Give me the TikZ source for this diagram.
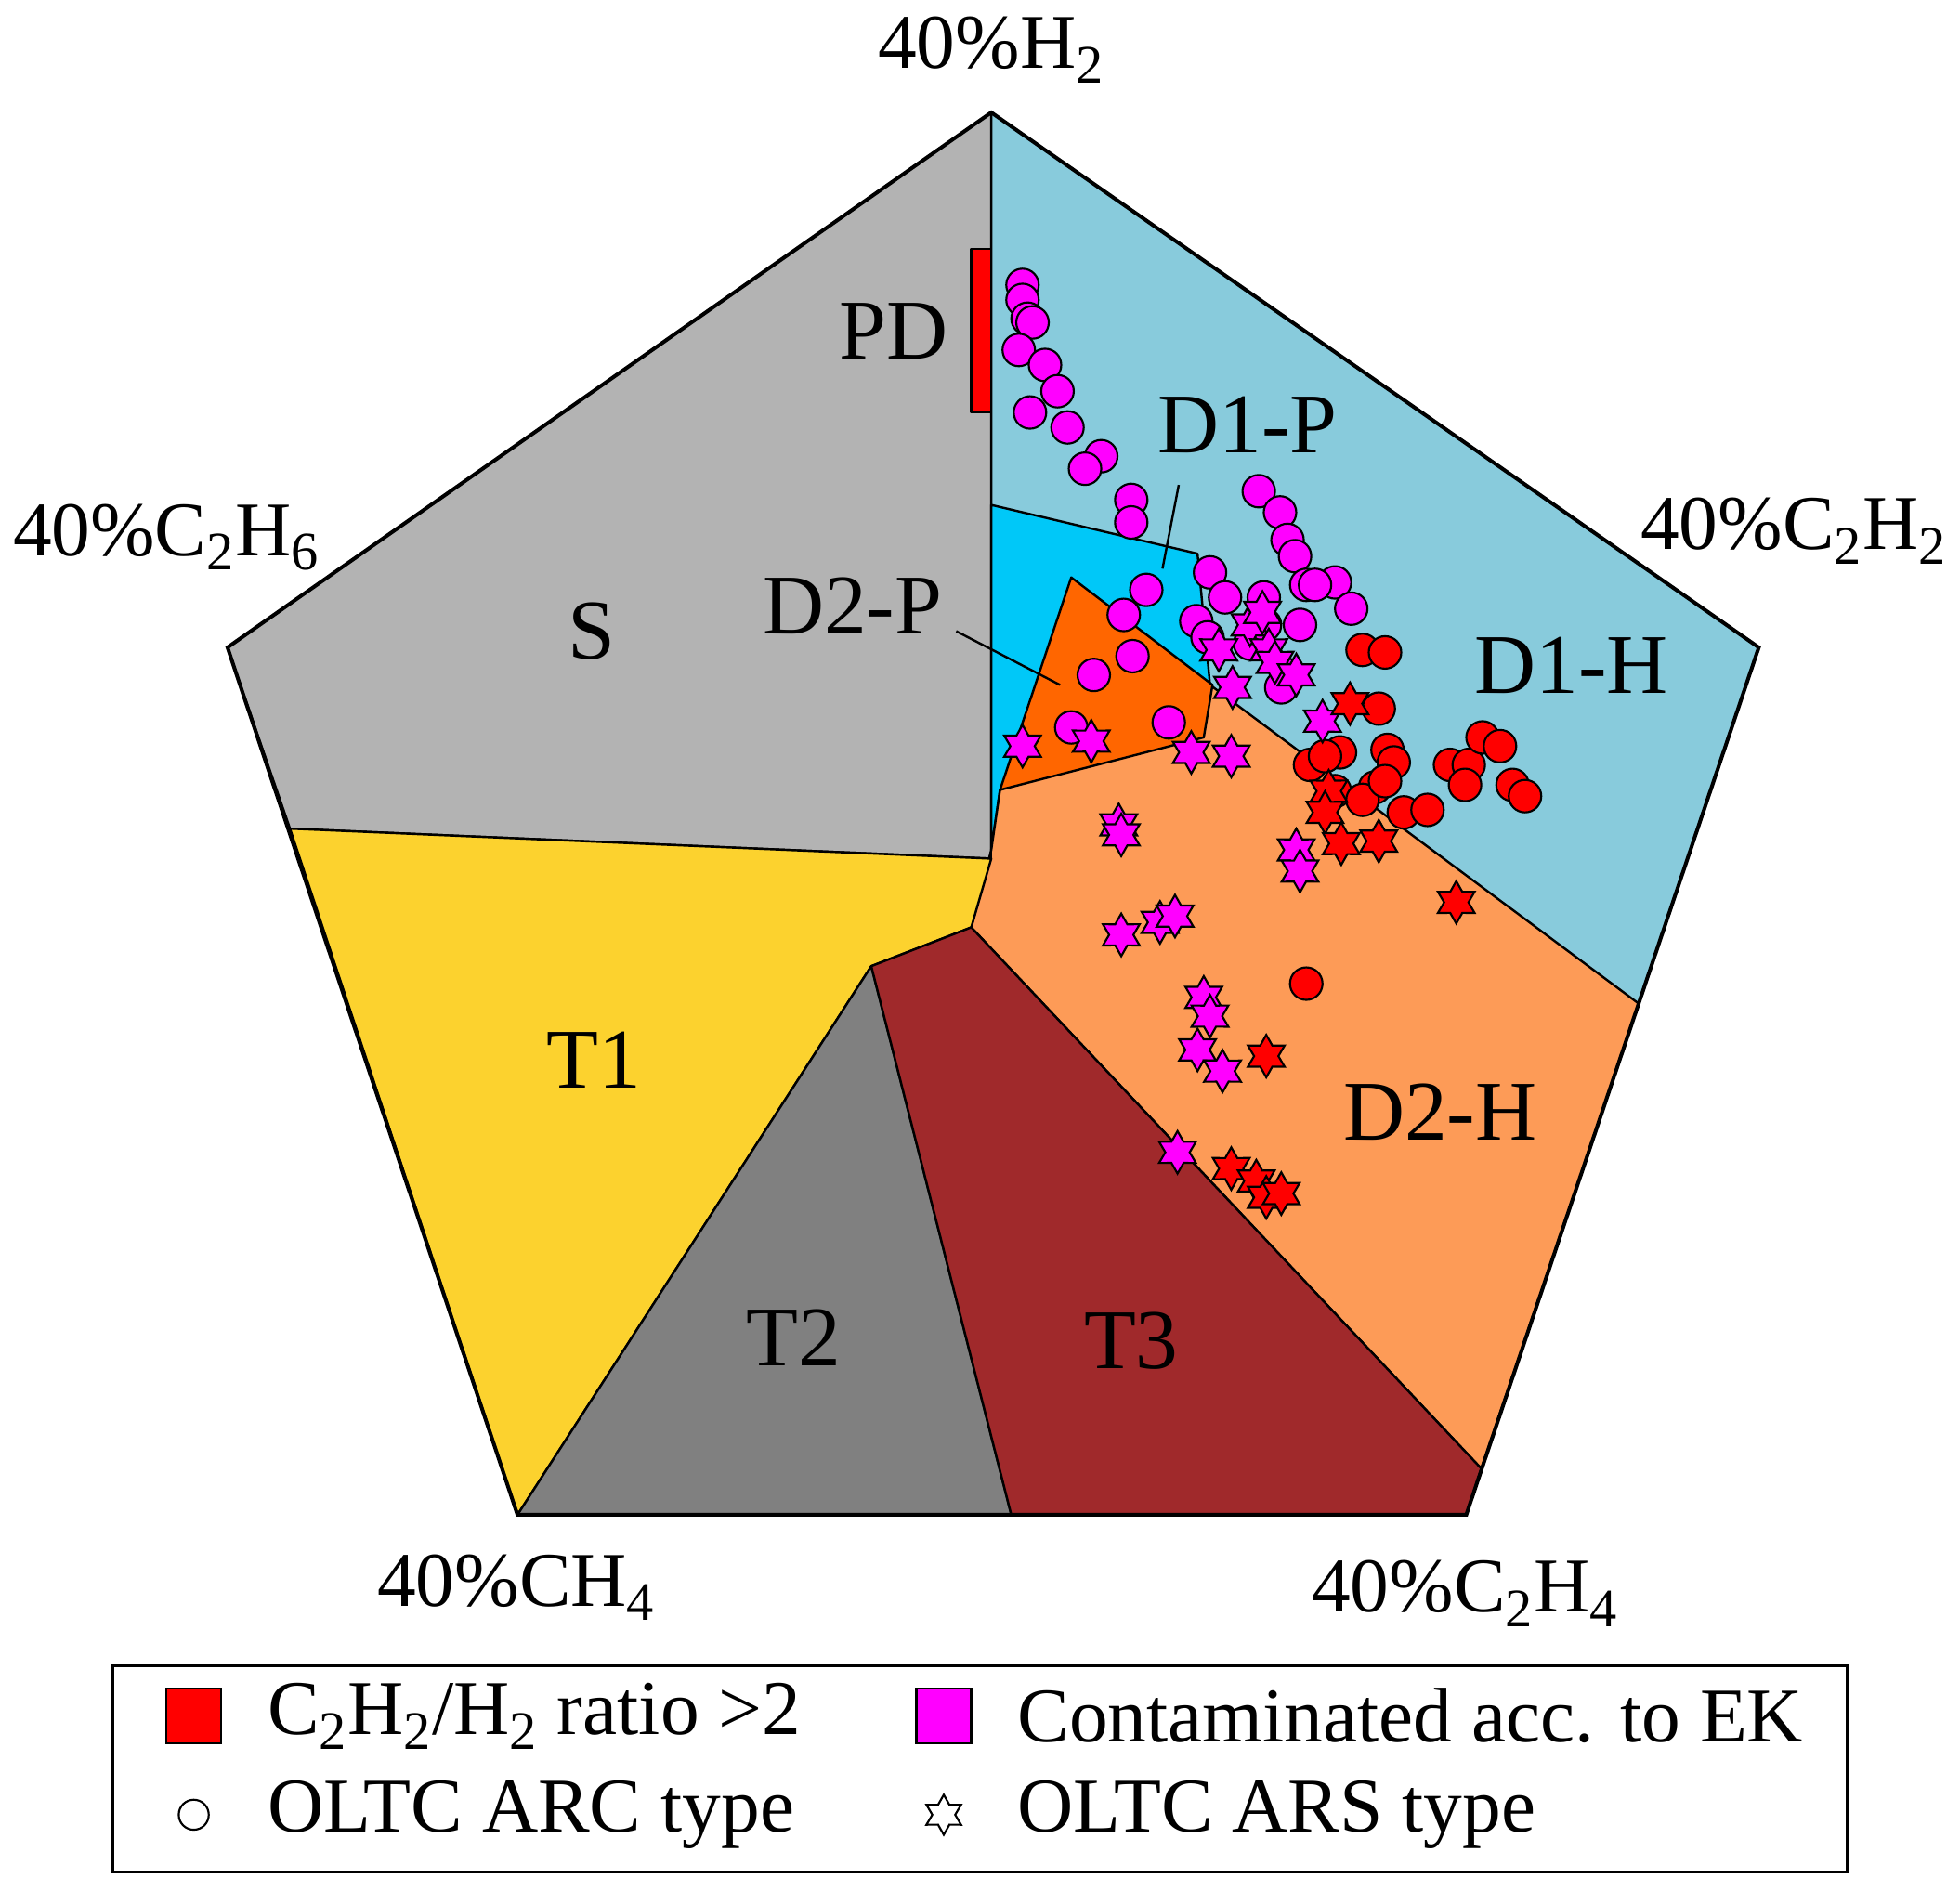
\documentclass[tikz,border=0pt]{standalone}
\usepackage{fontspec}
\setmainfont{Liberation Serif}
\usetikzlibrary{shapes.geometric}
\definecolor{cS}{HTML}{B3B3B3}
\definecolor{cDH}{HTML}{88CBDC}
\definecolor{cDP}{HTML}{00C8F8}
\definecolor{cD2H}{HTML}{FD9B57}
\definecolor{cD2P}{HTML}{FF6600}
\definecolor{cT1}{HTML}{FCD22E}
\definecolor{cT2}{HTML}{808080}
\definecolor{cT3}{HTML}{A0292B}
\definecolor{mag}{HTML}{FF00FF}
\newcommand{\sbs}[1]{\textsubscript{#1}}
\begin{document}
\begin{tikzpicture}[x=0.5pt,y=-0.5pt,
 reg/.style={draw=black,line width=0.9pt,line join=round},
 lab/.style={font=\fontsize{34}{36}\selectfont},
 vlab/.style={font=\fontsize{31}{33}\selectfont},
 circ/.style={circle,draw=black,line width=0.8pt,minimum size=13pt,inner sep=0pt},
 st/.style={star,star points=6,star point ratio=1.75,draw=black,line width=0.8pt,minimum size=17pt,inner sep=0pt},
 mc/.style={circ,fill=mag}, rc/.style={circ,fill=red},
 ms/.style={st,fill=mag}, rs/.style={st,fill=red}]
\useasboundingbox (0,0) rectangle (1568,1513);
% vertices
\coordinate (Top) at (793,90);
\coordinate (R) at (1407,518);
\coordinate (BR) at (1173,1212);
\coordinate (BL) at (414,1212);
\coordinate (L) at (182,518);
% regions
\fill[cDH] (Top)--(R)--(BR)--(BL)--(L)--cycle;
\filldraw[reg,fill=cS] (Top)--(L)--(232,663)--(793,687)--cycle;
\filldraw[reg,fill=cDP] (793,404)--(958,443)--(968,548)--(800,632)--(793,680)--cycle;
\filldraw[reg,fill=cD2H] (800,632)--(968,548)--(1311,803)--(1185,1175)--(777,742)--(793,680)--cycle;
\filldraw[reg,fill=cD2P] (857,462)--(970,548)--(963,590)--(800,632)--cycle;
\filldraw[reg,fill=cT1] (232,663)--(793,687)--(777,742)--(697,773)--(BL)--cycle;
\filldraw[reg,fill=cT2] (697,773)--(809,1212)--(BL)--cycle;
\filldraw[reg,fill=cT3] (697,773)--(777,742)--(1185,1175)--(BR)--(809,1212)--cycle;
\draw[reg] (Top)--(793,687);
\filldraw[reg,fill=red] (777,199) rectangle (793,330);
\draw[line width=1.5pt,line join=miter] (Top)--(R)--(BR)--(BL)--(L)--cycle;
% labels
\node[lab] (lPD) at (715,265) {PD};
\node[lab] (lD1P) at (998,340) {D1-P};
\node[lab] (lD2P) at (682,485) {D2-P};
\node[lab] (lS) at (473,505) {S};
\node[lab] (lD1H) at (1257,532) {D1-H};
\node[lab] (lD2H) at (1152,890) {D2-H};
\node[lab] (lT1) at (475,848) {T1};
\node[lab] (lT2) at (635,1070) {T2};
\node[lab] (lT3) at (905,1073) {T3};
\coordinate (p1) at (930,455);
\coordinate (p2) at (848,548);
\draw[line width=0.9pt] (943,388)--(p1);
\draw[line width=0.9pt] (765,505)--(p2);
\node[vlab] (vT) at (793,40) {40\%H\sbs{2}};
\node[vlab] (vL) at (133,430) {40\%C\sbs{2}H\sbs{6}};
\node[vlab] (vR) at (1435,425) {40\%C\sbs{2}H\sbs{2}};
\node[vlab] (vBL) at (413,1270) {40\%CH\sbs{4}};
\node[vlab] (vBR) at (1172,1275) {40\%C\sbs{2}H\sbs{4}};
% data
\foreach \p [count=\i] in {(818,228),(818,240),(822,255),(826,258),(815,280),(836,292),(846,313),(824,330),(854,342),(881,365),(868,375),(905,400),(905,418),(1007,393),(1024,410),(1030,432),(1036,445),(1045,468),(1068,466),(1081,487),(1052,468),(968,458),(980,478),(1011,478),(957,497),(1040,500),(917,472),(899,492),(906,525),(875,540),(935,578),(857,582),(966,510),(1000,515),(1030,540),(1025,550),(1012,500)}
  \node[mc] (mc\i) at \p {};
\foreach \p [count=\i] in {(1090,520),(1108,522),(1103,567),(1048,612),(1072,602),(1110,600),(1115,610),(1100,630),(1123,650),(1142,648),(1160,612),(1175,612),(1186,590),(1200,597),(1210,628),(1220,637),(1172,628),(1045,787),(1068,633),(1090,640),(1108,625),(1060,605)}
  \node[rc] (rc\i) at \p {};
\foreach \p [count=\i] in {(818,597),(873,593),(953,602),(985,605),(986,550),(975,520),(1000,500),(1015,520),(1020,530),(1037,540),(1058,577),(895,660),(897,668),(1037,680),(1040,697),(897,748),(928,738),(940,733),(963,798),(968,813),(958,840),(978,857),(942,922),(1010,490)}
  \node[ms] (ms\i) at \p {};
\foreach \p [count=\i] in {(1080,563),(1063,633),(1060,650),(1073,675),(1103,673),(1165,722),(1013,845),(985,935),(1005,945),(1013,958),(1025,955)}
  \node[rs] (rs\i) at \p {};
% legend
\draw[line width=1.2pt] (90,1333) rectangle (1478,1498);
\filldraw[line width=0.9pt,fill=red] (133,1351) rectangle (177,1395);
\filldraw[line width=0.9pt,fill=mag] (733,1351) rectangle (777,1395);
\node[circ,minimum size=12pt] (lc) at (155,1452) {};
\node[st,minimum size=16pt] (ls) at (755,1452) {};
\node[vlab,anchor=west] (t1) at (207,1373) {C\sbs{2}H\sbs{2}/H\sbs{2} ratio >2};
\node[vlab,anchor=west] (t2) at (807,1373) {Contaminated acc. to EK};
\node[vlab,anchor=west] (t3) at (207,1452) {OLTC ARC type};
\node[vlab,anchor=west] (t4) at (807,1452) {OLTC ARS type};
\end{tikzpicture}
\end{document}
